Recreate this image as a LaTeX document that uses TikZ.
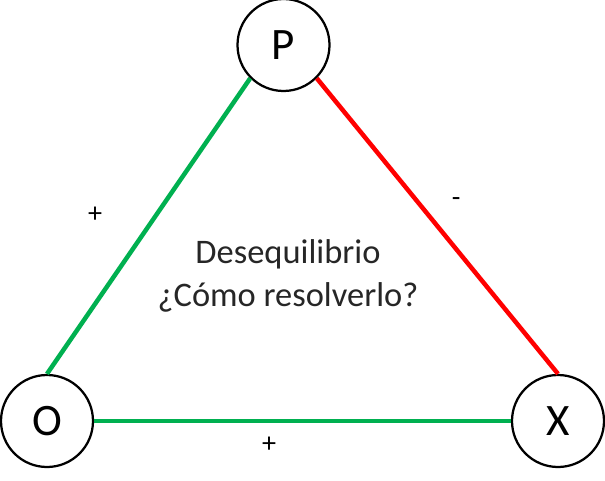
\documentclass[tikz,border=0pt]{standalone}
\usepackage{fontspec}
\setmainfont{Carlito}
\usetikzlibrary{positioning}
\definecolor{posgreen}{RGB}{0,176,80}
\definecolor{negred}{RGB}{255,0,0}

\begin{document}
\begin{tikzpicture}[node distance=12.775cm]
	\tikzstyle{elem}=[circle, draw, line width=1.6pt, minimum size=2.3cm, inner sep=0pt, fill=white, font=\fontsize{32}{38}\selectfont]
	\tikzstyle{sign}=[text=black, font=\fontsize{20}{22}\selectfont]
	\tikzstyle{every edge}=[draw, line width=3.2pt]

	\useasboundingbox (0,0) rectangle (15.125,12);
	\node[elem] (O) at (1.175,1.475) {O};
	\node[elem, right of=O] (X) {X};
	\node[elem] (P) at (7.0875,10.875) {P};
	\node[align=center, text=black!85, font=\fontsize{24.5}{31}\selectfont] (state) at (7.2,5.1) {Desequilibrio\\¿Cómo resolverlo?};

	\draw (P.225) edge[posgreen] node[sign, pos=0.46, xshift=-1.54cm] {+} (O.north);
	\draw (P.315) edge[negred] node[sign, pos=0.42, xshift=0.95cm] {-} (X.north);
	\draw (O.east) edge[posgreen] node[sign, pos=0.42, yshift=-0.6cm] {+} (X.west);
\end{tikzpicture}
\end{document}
